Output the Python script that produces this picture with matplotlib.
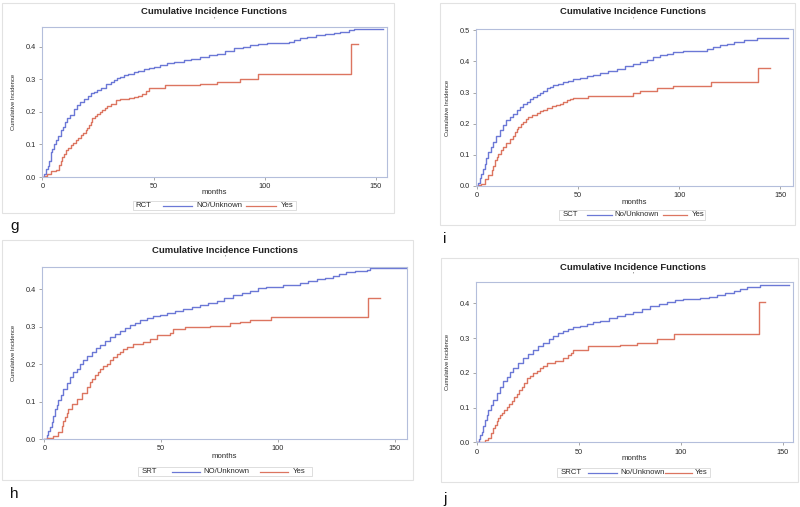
import matplotlib
matplotlib.use("Agg")
import matplotlib.pyplot as plt
from matplotlib.patches import Rectangle
from matplotlib.lines import Line2D

# ---------------- data ----------------
title = "Cumulative Incidence Functions"
xlabel = "months"
ylabel = "Cumulative Incidence"
series_labels_g = ["NO/Unknown", "Yes"]
series_labels_i = ["No/Unknown", "Yes"]
series_labels_h = ["NO/Unknown", "Yes"]
series_labels_j = ["No/Unknown", "Yes"]
groups = ["RCT", "SCT", "SRT", "SRCT"]
panel_letters = ["g", "i", "h", "j"]

g_blue_t = [0, 0.8, 1.5, 2.3, 3, 3.7, 4.5, 5.2, 6, 7, 8.2, 9.2, 10.2, 11.2, 12.5, 14.2, 15.5, 17, 18.7, 20.5,
            22, 23.2, 24.7, 26.2, 28.5, 30.7, 32, 33.6, 35, 36.6, 38.5, 41, 43, 45.6, 48, 50, 53, 56, 59, 63.5,
            67, 71, 75, 78.5, 82, 86, 90, 93.5, 97, 101, 106, 111, 113, 116, 119, 123, 127, 131, 134, 138, 140, 153.3]
g_blue_v = [0, 0.01, 0.025, 0.035, 0.05, 0.077, 0.085, 0.1, 0.113, 0.125, 0.144, 0.155, 0.168, 0.18, 0.192, 0.21, 0.22, 0.23, 0.241, 0.25,
            0.258, 0.262, 0.268, 0.275, 0.285, 0.292, 0.297, 0.303, 0.308, 0.313, 0.316, 0.323, 0.327, 0.333, 0.335, 0.338, 0.343, 0.349, 0.352, 0.359,
            0.363, 0.369, 0.374, 0.379, 0.387, 0.395, 0.400, 0.405, 0.409, 0.412, 0.413, 0.415, 0.42, 0.426, 0.43, 0.436, 0.44, 0.444, 0.447, 0.451, 0.454, 0.454]
g_red_t = [0, 1.2, 2.2, 3.7, 6, 7.5, 8.3, 9, 9.8, 10.5, 11.5, 12.7, 13.8, 15, 16, 17.2, 18.3, 19.4, 20.2, 21,
           21.7, 22.4, 23.5, 24.7, 25.8, 27, 28, 29, 31, 33, 35, 36.6, 39, 41, 43, 45, 46.5, 48, 55.3, 71,
           78.5, 89, 97, 139, 142]
g_red_v = [0, 0.003, 0.008, 0.018, 0.02, 0.036, 0.048, 0.062, 0.072, 0.082, 0.09, 0.097, 0.105, 0.113, 0.12, 0.128, 0.135, 0.144, 0.152, 0.159,
           0.17, 0.18, 0.187, 0.195, 0.2, 0.205, 0.212, 0.217, 0.225, 0.236, 0.239, 0.241, 0.244, 0.246, 0.25, 0.256, 0.264, 0.272, 0.282, 0.287,
           0.292, 0.300, 0.316, 0.41, 0.41]

i_blue_t = [0, 0.5, 1.2, 2.1, 3, 3.8, 4.6, 5.5, 6.7, 7.9, 9.5, 11.2, 12.8, 14.5, 16, 17.8, 19.5, 21.1, 22.8, 24.5,
            26, 27.8, 29.5, 31, 32.7, 34.4, 36, 37.7, 40, 42.6, 45, 47.6, 51, 54.2, 57.5, 60.8, 65, 69, 73, 77.3,
            80.5, 84, 87, 90.5, 94, 97, 102, 107, 113.7, 117, 120, 123.5, 127, 132, 138.4, 154]
i_blue_v = [0, 0.01, 0.025, 0.04, 0.055, 0.072, 0.09, 0.109, 0.125, 0.141, 0.16, 0.179, 0.195, 0.211, 0.222, 0.232, 0.243, 0.254, 0.262, 0.27,
            0.278, 0.286, 0.293, 0.299, 0.306, 0.313, 0.318, 0.323, 0.328, 0.334, 0.338, 0.343, 0.347, 0.352, 0.357, 0.363, 0.37, 0.377, 0.384, 0.391,
            0.398, 0.406, 0.413, 0.42, 0.425, 0.43, 0.432, 0.434, 0.441, 0.446, 0.452, 0.457, 0.462, 0.468, 0.476, 0.476]
i_red_t = [0, 0.8, 2, 3.8, 5.5, 7.1, 8, 8.8, 9.6, 10.4, 11.6, 12.9, 14.5, 16.2, 17.5, 18.7, 19.5, 20.3, 21.5, 22.8,
           24, 25.3, 27.3, 29.4, 31, 32.7, 34.7, 36.8, 39, 41, 42.7, 44.3, 46, 47.6, 55, 77.3, 80.6, 88.9, 97, 116,
           139.3, 145]
i_red_v = [0, 0.004, 0.007, 0.024, 0.034, 0.05, 0.065, 0.082, 0.094, 0.104, 0.115, 0.125, 0.138, 0.152, 0.162, 0.173, 0.182, 0.19, 0.198, 0.206,
           0.214, 0.222, 0.228, 0.234, 0.24, 0.245, 0.251, 0.256, 0.26, 0.264, 0.27, 0.275, 0.28, 0.284, 0.289, 0.297, 0.305, 0.313, 0.32, 0.334,
           0.38, 0.38]

h_blue_t = [0, 1, 1.7, 2.4, 3.1, 3.8, 4.6, 5.3, 6, 7, 8.1, 9.5, 11, 12.4, 13.8, 15.2, 16.7, 18.4, 20.2, 22,
            23.8, 26, 28.1, 30.2, 32.4, 34.5, 36.6, 38.8, 41, 43.8, 46.6, 49.5, 52.3, 56, 59.5, 63, 66.6, 70, 73.7, 77,
            80.8, 84.5, 88, 91.5, 95, 102, 109.4, 113, 116.5, 120, 123.6, 126, 129, 133, 138, 139.3, 155]
h_blue_v = [0, 0.01, 0.022, 0.033, 0.045, 0.062, 0.08, 0.092, 0.103, 0.118, 0.134, 0.15, 0.166, 0.178, 0.188, 0.2, 0.21, 0.222, 0.233, 0.243,
            0.251, 0.262, 0.273, 0.281, 0.289, 0.297, 0.304, 0.311, 0.318, 0.323, 0.328, 0.332, 0.336, 0.341, 0.346, 0.352, 0.358, 0.363, 0.369, 0.376,
            0.385, 0.391, 0.396, 0.402, 0.407, 0.412, 0.416, 0.421, 0.427, 0.43, 0.434, 0.44, 0.445, 0.448, 0.452, 0.456, 0.456]
h_red_t = [0, 1, 2.4, 3.8, 6, 7.4, 8.1, 8.8, 9.6, 10.3, 11.7, 13.8, 16, 18.1, 19.5, 20.6, 21.7, 22.8, 23.8, 25.2,
           26.7, 28.1, 29.5, 31, 32.4, 33.8, 35.2, 38, 42.3, 45.2, 48, 53.8, 55.2, 60, 70.9, 79.4, 83.7, 88, 97.2, 138.6,
           143.6]
h_red_v = [0, 0.002, 0.004, 0.009, 0.018, 0.036, 0.047, 0.058, 0.07, 0.081, 0.094, 0.107, 0.123, 0.139, 0.152, 0.161, 0.17, 0.18, 0.188, 0.195,
           0.201, 0.21, 0.219, 0.226, 0.233, 0.24, 0.246, 0.253, 0.26, 0.268, 0.277, 0.282, 0.293, 0.298, 0.302, 0.309, 0.313, 0.318, 0.327, 0.376,
           0.376]

j_blue_t = [0, 0.8, 1.4, 2.1, 3, 3.8, 4.6, 5.4, 6.6, 7.9, 9.5, 11.1, 12.7, 14.4, 16, 17.7, 20, 22.6, 25, 27.5,
            30, 32.4, 35, 37.3, 39.8, 42.2, 44.7, 47.2, 50.5, 53.7, 57, 60.3, 64.4, 68.4, 72.5, 76.6, 80.7, 84.8, 89, 93,
            97, 101, 109.4, 113.5, 117.6, 121.7, 125.8, 129, 132.3, 138.9, 152.8]
j_blue_v = [0, 0.01, 0.02, 0.031, 0.048, 0.064, 0.078, 0.093, 0.108, 0.122, 0.141, 0.16, 0.175, 0.189, 0.201, 0.213, 0.228, 0.242, 0.255, 0.266,
            0.276, 0.285, 0.296, 0.306, 0.314, 0.321, 0.326, 0.331, 0.336, 0.341, 0.345, 0.35, 0.357, 0.364, 0.37, 0.376, 0.384, 0.392, 0.399, 0.405,
            0.409, 0.412, 0.414, 0.419, 0.424, 0.429, 0.434, 0.44, 0.446, 0.453, 0.453]
j_red_t = [0, 1.3, 3.8, 5.4, 7, 7.9, 8.7, 9.5, 10.3, 11.2, 12, 13.2, 14.4, 15.6, 16.9, 18.1, 19.3, 20.5, 21.8, 23,
           24.2, 25.8, 27.5, 29.2, 30.8, 32.4, 34, 38.2, 42.2, 44.7, 46, 47.2, 54.5, 70, 78.3, 88, 96.3, 138, 141.3]
j_red_v = [0, 0.002, 0.007, 0.012, 0.028, 0.04, 0.05, 0.06, 0.069, 0.078, 0.085, 0.094, 0.103, 0.111, 0.12, 0.13, 0.139, 0.15, 0.16, 0.172,
           0.184, 0.191, 0.199, 0.206, 0.213, 0.22, 0.227, 0.234, 0.242, 0.251, 0.258, 0.266, 0.277, 0.28, 0.287, 0.296, 0.312, 0.405, 0.405]

g_yticks = [0.0, 0.1, 0.2, 0.3, 0.4]
i_yticks = [0.0, 0.1, 0.2, 0.3, 0.4, 0.5]
xticks = [0, 50, 100, 150]

# ---------------- styling / layout ----------------
W, H = 800, 507
fig = plt.figure(figsize=(W / 100, H / 100), dpi=100)
fig.patch.set_facecolor("white")

BLUE = "#6b78d6"
RED = "#dc7560"
SPINE = "#b4bedb"
FRAME = "#e2e2e2"
TXT = "#2a2a2a"
FONT = "Liberation Sans"


def fx(px):
    return px / W


def fy(py):
    return 1 - py / H


panels = [
    dict(frame=(2, 3, 394, 213), ax=(42, 27, 387, 177), xlim=(-0.2, 155), ylim=(0, 0.461),
         yticks=g_yticks, title_xy=(214, 12), months_y=193,
         leg=(133, 201, 296, 210), leg_items=(135, 163, 192, 196, 246, 276, 281),
         letter_xy=(10, 226), data=(g_blue_t, g_blue_v, g_red_t, g_red_v), labels=series_labels_g),
    dict(frame=(440, 3, 795, 225), ax=(476, 29, 793, 186), xlim=(-0.6, 156.4), ylim=(0, 0.504),
         yticks=i_yticks, title_xy=(633, 12), months_y=202,
         leg=(559, 210, 705, 220), leg_items=(563, 587, 612, 614, 663, 687, 692),
         letter_xy=(443, 239), data=(i_blue_t, i_blue_v, i_red_t, i_red_v), labels=series_labels_i),
    dict(frame=(2, 240, 413, 480), ax=(42, 266.5, 407, 439), xlim=(-1, 155.2), ylim=(0, 0.4607),
         yticks=g_yticks, title_xy=(225, 250), months_y=457,
         leg=(138, 467, 312, 476), leg_items=(142, 172, 200, 203, 260, 288, 293),
         letter_xy=(10, 494), data=(h_blue_t, h_blue_v, h_red_t, h_red_v), labels=series_labels_h),
    dict(frame=(441, 258, 798, 482), ax=(476, 282.3, 793, 442.3), xlim=(-0.6, 154.9), ylim=(0, 0.4604),
         yticks=g_yticks, title_xy=(633, 267), months_y=459,
         leg=(557, 468, 710, 477), leg_items=(561, 588, 617, 620, 665, 692, 695),
         letter_xy=(443, 499), data=(j_blue_t, j_blue_v, j_red_t, j_red_v), labels=series_labels_j),
]

for k, p in enumerate(panels):
    # outer frame
    x0, y0, x1, y1 = p["frame"]
    fig.patches.append(Rectangle((fx(x0), fy(y1)), fx(x1 - x0), (y1 - y0) / H,
                                 transform=fig.transFigure, fill=False, edgecolor=FRAME, lw=0.8))
    # axes
    a0, b0, a1, b1 = p["ax"]
    ax = fig.add_axes([fx(a0), fy(b1), fx(a1 - a0), (b1 - b0) / H])
    bt, bv, rt, rv = p["data"]
    ax.plot(bt, bv, drawstyle="steps-post", color=BLUE, lw=1.0)
    ax.plot(rt, rv, drawstyle="steps-post", color=RED, lw=1.0)
    ax.set_xlim(*p["xlim"])
    ax.set_ylim(*p["ylim"])
    ax.set_xticks(xticks)
    ax.set_yticks(p["yticks"])
    ax.set_yticklabels([f"{v:.1f}" for v in p["yticks"]])
    for s in ax.spines.values():
        s.set_color(SPINE)
        s.set_linewidth(0.8)
    ax.tick_params(direction="out", length=2.5, width=0.6, color="#999999",
                   labelsize=5.3, labelcolor=TXT, pad=2)
    for lab in ax.get_xticklabels() + ax.get_yticklabels():
        lab.set_fontfamily(FONT)
    ax.set_ylabel(ylabel, fontsize=4.2, family=FONT, color=TXT, labelpad=7)
    # title and subtitle dot
    tx, ty = p["title_xy"]
    fig.text(fx(tx), fy(ty), title, ha="center", va="center", fontsize=6.8,
             fontweight="bold", family=FONT, color="#222222")
    fig.text(fx(tx), fy(ty + 7), "'", ha="center", va="center", fontsize=4, color="#444444")
    # x label
    fig.text(fx((a0 + a1) / 2), fy(p["months_y"]), xlabel, ha="center", va="center",
             fontsize=5.6, family=FONT, color=TXT)
    # legend
    l0, m0, l1, m1 = p["leg"]
    fig.patches.append(Rectangle((fx(l0), fy(m1)), fx(l1 - l0), (m1 - m0) / H,
                                 transform=fig.transFigure, fill=False, edgecolor="#d8d8d8", lw=0.6))
    gx, b_s, b_e, lab1x, r_s, r_e, lab2x = p["leg_items"]
    my = fy((m0 + m1) / 2)
    fig.text(fx(gx), my, groups[k], ha="left", va="center", fontsize=5.6, family=FONT, color=TXT)
    fig.lines.append(Line2D([fx(b_s), fx(b_e)], [my, my], transform=fig.transFigure, color=BLUE, lw=0.9))
    fig.text(fx(lab1x), my, p["labels"][0], ha="left", va="center", fontsize=5.6, family=FONT, color=TXT)
    fig.lines.append(Line2D([fx(r_s), fx(r_e)], [my, my], transform=fig.transFigure, color=RED, lw=0.9))
    fig.text(fx(lab2x), my, p["labels"][1], ha="left", va="center", fontsize=5.6, family=FONT, color=TXT)
    # panel letter
    lx, ly = p["letter_xy"]
    fig.text(fx(lx), fy(ly), panel_letters[k], ha="left", va="center", fontsize=11,
             family=FONT, color="#111111")

fig.savefig("out.png", dpi=100)
